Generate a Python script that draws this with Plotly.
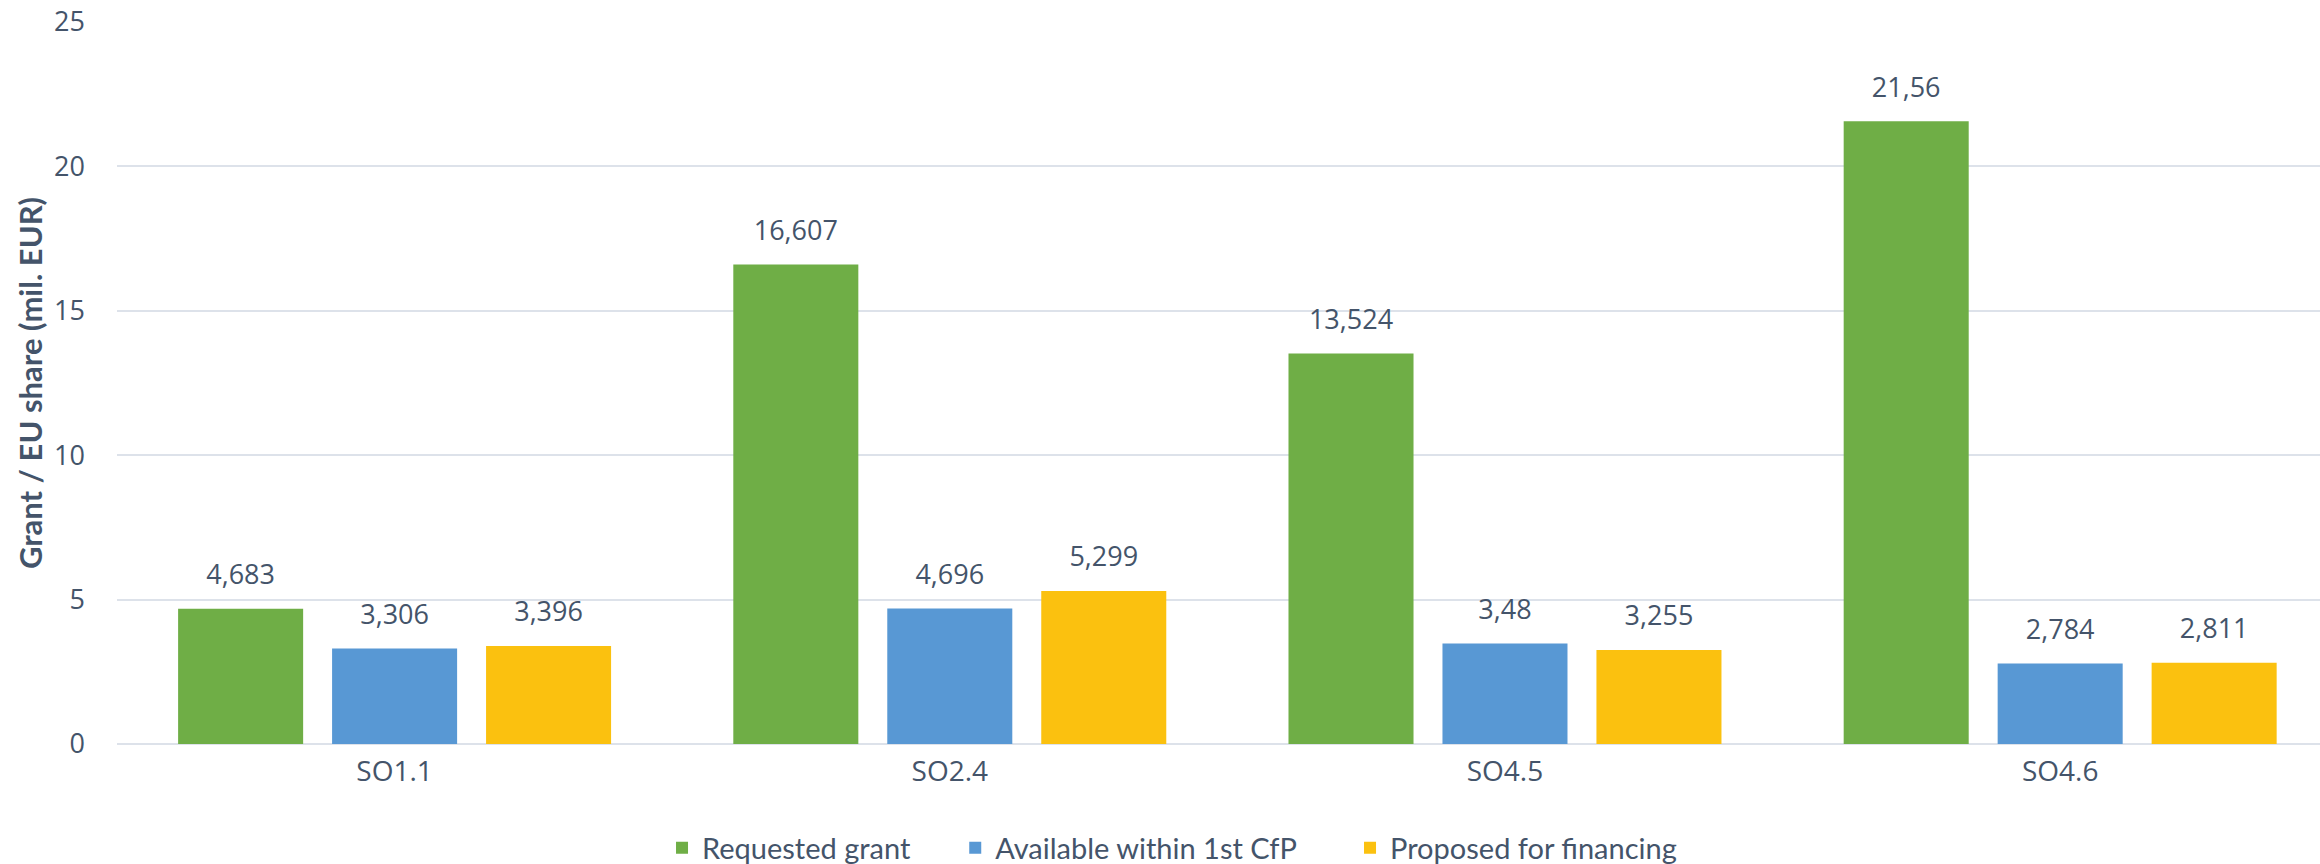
import plotly.graph_objects as go

categories = ["SO1.1", "SO2.4", "SO4.5", "SO4.6"]
requested_grant = [4.683, 16.607, 13.524, 21.56]
available_1st_cfp = [3.306, 4.696, 3.48, 2.784]
proposed_financing = [3.396, 5.299, 3.255, 2.811]
series_names = ["Requested grant", "Available within 1st CfP", "Proposed for financing"]
y_ticks = [0, 5, 10, 15, 20, 25]

colors = ["#6FAE46", "#5898D4", "#FBC10F"]
text_color = "#44546A"
grid_color = "#DDE2EA"
label_gap = 0.47  # visual gap between bar top and its value label (axis units)

legend_ids = ["legend", "legend2", "legend3"]
legend_x = [0.2474, 0.3805, 0.5597]


def fmt(v):
    return str(v).replace(".", ",")


fig = go.Figure()
for i, (name, vals, col) in enumerate(zip(series_names,
                                          [requested_grant, available_1st_cfp, proposed_financing],
                                          colors)):
    fig.add_trace(go.Bar(
        name=name, x=categories, y=vals, offsetgroup=str(i),
        marker=dict(color=col, line=dict(width=0)),
        legend=legend_ids[i],
    ))
    # transparent spacer carrying the value label above each bar
    fig.add_trace(go.Bar(
        x=categories, y=[label_gap] * len(vals), base=vals, offsetgroup=str(i),
        marker=dict(color="rgba(0,0,0,0)", line=dict(width=0)),
        text=[fmt(v) for v in vals], textposition="outside",
        textfont=dict(family="Open Sans", size=27, color=text_color),
        cliponaxis=False, showlegend=False, hoverinfo="skip",
    ))

legend_common = dict(orientation="h", xref="paper", yref="paper",
                     y=-0.144, yanchor="middle", xanchor="left",
                     bgcolor="rgba(0,0,0,0)",
                     font=dict(family="Lato", size=29, color=text_color),
                     itemwidth=30)

fig.update_layout(
    width=2320, height=864,
    margin=dict(l=117, r=0, t=22, b=120, autoexpand=False),
    paper_bgcolor="white", plot_bgcolor="white",
    barmode="group", bargap=0.168, bargroupgap=0.188,
    showlegend=True,
    legend=dict(x=legend_x[0], **legend_common),
    legend2=dict(x=legend_x[1], **legend_common),
    legend3=dict(x=legend_x[2], **legend_common),
    xaxis=dict(range=[-0.5, 3.468], showgrid=False, showline=False, zeroline=False,
               ticks="", tickfont=dict(family="Open Sans", size=28, color=text_color),
               ticklabelstandoff=8),
    yaxis=dict(range=[0, 25], tickvals=y_ticks, showgrid=True, gridcolor=grid_color, gridwidth=2,
               zeroline=True, zerolinecolor=grid_color, zerolinewidth=2, showline=False,
               ticks="", tickfont=dict(family="Open Sans", size=27, color=text_color),
               ticklabelstandoff=31, ticklabeloverflow="allow",
               title=dict(text="<b>Grant / EU share (mil. EUR)</b>", standoff=2,
                          font=dict(family="Lato", size=31, color=text_color))),
)

# remove the default 8px page margin so the figure fills the window exactly
fig.write_html("out.html",
               config={"displayModeBar": False},
               post_script="document.body.style.margin='0';document.body.style.overflow='hidden';")
